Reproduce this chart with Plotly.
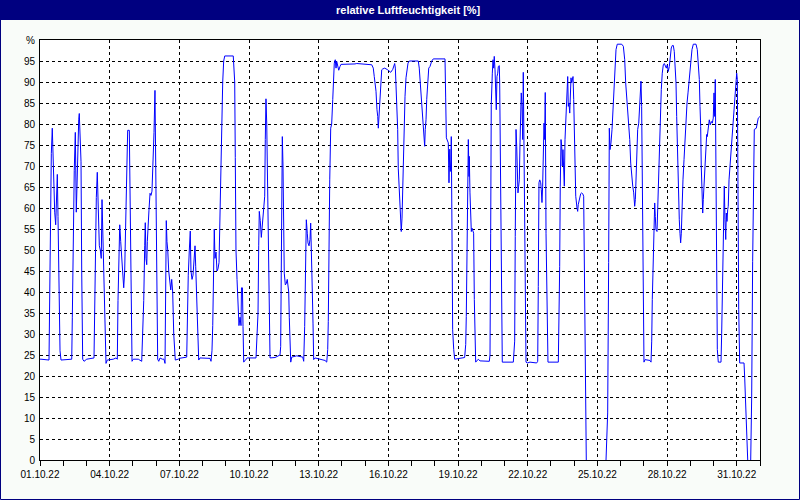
import datetime as dt
import plotly.graph_objects as go

title_text = "relative Luftfeuchtigkeit [%]"
start = dt.datetime(2022, 10, 1)
end = dt.datetime(2022, 11, 1)

# (hours since 01.10.22 00:00, relative humidity %); None = no reading
points = [
    (0, 24), (1.0, 24), (9.3, 23.8), (10.0, 40), (11.1, 61), (11.7, 73), (12.7, 79), (13.4, 73), (14.5, 64.5),
    (15.2, 59), (16.2, 56), (16.8, 63.5), (17.9, 68), (18.6, 58), (19.6, 38), (20.7, 26), (21.7, 23.8),
    (32.8, 24), (33.4, 34), (34.4, 53), (35.4, 69), (36.5, 78), (37.5, 59), (38.2, 65), (39.0, 75), (40.0, 81),
    (40.6, 82.5), (41.3, 77), (42.4, 71), (43.1, 45), (44.1, 24), (45.5, 23.5), (48.3, 24), (55.8, 24.3),
    (56.5, 39), (57.1, 55), (58.2, 62.5), (59.2, 68.5), (60.2, 60), (61.3, 51), (62.3, 50), (63.3, 48),
    (64.1, 62), (65.1, 53), (66.1, 47), (67.2, 35), (68.2, 23), (69.5, 23.8), (75.7, 24), (78.5, 24.3),
    (79.9, 24), (80.6, 38), (81.6, 53), (82.4, 56), (83.4, 52), (84.4, 48), (85.5, 44), (86.5, 41), (87.5, 45),
    (88.6, 58), (89.6, 65.5), (90.6, 78.5), (92.3, 78.5), (93.3, 58), (94.3, 33), (95.1, 23.5), (96.4, 24),
    (101.6, 24), (105.1, 23.5), (106.1, 30), (107.2, 38), (108.2, 51), (108.8, 56.5), (109.5, 48), (110.3, 46.5),
    (110.9, 52), (111.6, 56.5), (112.6, 59.5), (113.7, 63.5), (114.7, 63), (115.7, 64), (116.8, 70.5),
    (117.8, 78), (118.8, 88), (119.6, 67), (120.6, 35), (121.6, 24), (122.7, 23.5), (124, 24.3), (126.4, 24),
    (128.1, 24), (129.2, 23), (129.9, 40), (130.5, 57), (131.2, 52), (132, 50), (133, 45), (134, 42),
    (135.1, 40.5), (136.1, 43), (137.1, 40), (138.2, 30), (139.2, 25.5), (139.8, 23.8), (142.9, 24),
    (143.9, 24.2), (151.6, 24.5), (152.2, 33), (153.2, 44), (154.3, 50), (155.3, 54.5), (156, 45), (157.1, 43),
    (158.1, 44), (159.1, 48), (160.2, 51), (160.9, 46), (161.9, 38), (163, 30), (164, 23.8), (165.3, 24.3),
    (175.7, 24.2), (176.7, 23.5), (177.7, 26), (178.5, 32), (179.1, 44), (180.1, 55), (180.8, 48),
    (181.9, 49.5), (182.9, 45), (183.9, 45.5), (185, 47), (185.7, 55), (186.7, 70), (187.8, 82), (188.8, 90),
    (189.8, 95), (190.9, 96.2), (199.7, 96.2), (200.5, 93.5), (201.2, 90), (201.8, 72), (202.5, 50),
    (203.6, 43), (204.6, 35), (205.6, 32), (206.7, 34), (207.7, 32), (208.2, 41), (209.2, 41), (209.8, 31.8),
    (210.5, 23.3), (212.9, 24), (214.2, 24.3), (223.2, 24.3), (223.9, 28.6), (225.3, 35), (226, 51),
    (226.6, 59.2), (227.6, 57), (228.7, 53), (229.4, 55), (230.1, 57), (231.2, 60), (232.2, 62.8),
    (232.8, 76.3), (233.5, 86), (234.3, 80), (234.9, 68.3), (235.9, 56.4), (236.9, 43), (237.7, 24.3),
    (242.8, 24.4), (246.2, 24.7), (248, 25), (248.7, 27), (249.3, 51), (250.1, 62), (250.4, 77), (251.1, 70),
    (251.8, 56.4), (252.4, 44.5), (253.5, 41.7), (254.5, 42), (255.5, 43), (257, 40), (257.6, 34), (258.3, 28),
    (259.1, 23.3), (260.1, 24.5), (265.3, 24.8), (271.5, 24.5), (272.5, 23.5), (273.5, 31.8), (274.6, 45.3),
    (275.2, 57.2), (276.2, 54), (276.9, 51.7), (278, 51), (279, 52.5), (279.7, 56.4), (280.8, 48.5),
    (281.4, 40), (282.1, 32.6), (282.8, 23.9), (284.2, 24.3), (288.6, 24.1), (294.5, 23.7), (296.3, 23.3),
    (297.3, 26.3), (297.9, 33), (298.6, 57), (299.4, 66.7), (300.4, 79), (301.4, 80), (302.5, 85.8),
    (303.1, 91.3), (304.1, 94.5), (305.1, 95.3), (305.9, 93.3), (306.6, 94.9), (307.6, 93.7), (308.7, 92.8),
    (310, 93.7), (311, 94.2), (325.5, 94.3), (327.3, 94.4), (342.8, 94.1), (344.4, 93.3), (345.4, 91.3),
    (346.5, 89.8), (347.2, 87.8), (348.2, 83.4), (349, 81.8), (349.6, 79), (350.3, 81.8), (351, 87.4),
    (352.1, 91.3), (353.1, 92.9), (354.1, 93.1), (356.2, 93.3), (359.3, 92.9), (361.4, 92.6), (362.4, 92.3),
    (364.5, 93), (365.5, 93.7), (366.5, 94.4), (367.2, 93.3), (367.9, 89), (368.6, 84.2), (369.6, 78.7),
    (370.2, 69.5), (371, 65.2), (371.7, 60.4), (372.7, 56), (373.3, 54.4), (374.1, 57.6), (374.8, 65.2),
    (375.4, 69.9), (376.1, 79.4), (377.2, 86.6), (378.2, 91), (379.2, 93.3), (380.3, 94.5), (381.6, 95),
    (390.9, 95), (391.9, 93.3), (392.7, 90.6), (393.7, 87.8), (394.4, 84.2), (395, 81), (396.1, 78.7),
    (396.8, 76.3), (397.5, 74.7), (398.1, 78.7), (398.9, 81), (399.6, 85.8), (400.6, 90.6), (401.7, 93.3),
    (403, 93.7), (404.8, 95), (406.4, 95.5), (418.5, 95.5), (419.2, 86.2), (419.9, 76.7), (421.9, 75.5),
    (422.6, 66), (423.4, 74), (424, 68.7), (424.7, 71.5), (425, 77), (425.7, 54.8), (426.4, 31), (427.5, 26.3),
    (428.5, 24), (438.8, 24.4), (439.9, 27.5), (440.5, 34.2), (441.2, 52.5), (442, 66.7), (442.6, 76.3),
    (443.3, 67.5), (443.6, 72.3), (444.3, 63.6), (445, 56.8), (445.7, 54.4), (446.4, 55.2), (448.1, 54),
    (448.8, 38.2), (449.5, 27), (450.2, 23.3), (452.9, 24), (454.7, 23.6), (464.3, 23.5), (465, 25),
    (465.7, 54), (466.3, 84.6), (467.4, 92.1), (468.1, 95.3), (468.8, 93.3), (469.4, 96.1), (470.2, 92.9),
    (470.9, 88.2), (471.5, 83.4), (472.2, 91.3), (473, 92.1), (473.6, 93.7), (474.6, 93.9), (475, 90),
    (475.6, 76.3), (476.4, 60.4), (477.1, 41), (477.7, 23.3), (489.1, 23.3), (489.8, 25), (490.5, 28.3),
    (491.1, 53.2), (491.9, 78.7), (492.6, 74.7), (493.2, 68.3), (493.9, 63.6), (494.6, 65.2), (495.3, 66.7),
    (496, 75.5), (496.7, 80), (497.3, 87.4), (498.1, 84.2), (498.8, 76.3), (499.4, 92.3), (500.1, 69.5),
    (500.8, 50.9), (501.5, 36.6), (502.2, 23.3), (503.6, 23.1), (506.3, 23.3), (513.2, 23.1), (514.3, 23.5),
    (514.9, 41.3), (515.6, 66), (516.4, 66.7), (517.4, 66), (518, 64.4), (518.7, 61.3), (519.4, 65.2),
    (520.1, 71.5), (520.8, 80.2), (521.5, 76.3), (522.1, 87.5), (522.9, 54), (523.6, 37.4), (524.2, 32.6),
    (524.9, 23.3), (535.6, 23.3), (536.3, 31), (537, 46.1), (537.6, 65.2), (538.4, 76.3), (539.1, 74.7),
    (539.7, 70), (540.4, 73.9), (541.2, 68), (541.8, 65.2), (542.5, 76.3), (543.2, 81), (543.8, 86.2),
    (544.6, 91), (545.3, 91.3), (545.9, 84.2), (546.6, 85), (547.4, 82.6), (548, 89.8), (548.7, 91),
    (549.4, 89.8), (550.8, 91.3), (551.5, 85.8), (552.1, 79), (552.8, 70.3), (553.6, 62.8), (554.9, 60),
    (555.6, 59.2), (556.2, 60.8), (557.7, 62.8), (558.7, 63.4), (559.8, 63.6), (560.8, 63.4), (561.8, 62.8),
    (562.4, 47.3), (563.2, 32.6), (563.9, 19.1), (564.5, 0), (574.7, None), (584.9, 0), (585.6, 3.6), (586.6, 11.2),
    (587.6, 47), (588.3, 79), (589, 73.9), (590, 75.5), (591.1, 78.7), (592.1, 83.4), (593.1, 89.8),
    (594.2, 95), (595.2, 97.7), (596.5, 99), (601.1, 99), (602.8, 98.5), (604.2, 95.3), (605.2, 89.8),
    (606.3, 86.2), (607.3, 83), (608.3, 81), (609.4, 76.3), (610.4, 70.7), (611.4, 66.7), (612.5, 65.2),
    (613.5, 63.6), (614.5, 60.4), (615.2, 62), (615.9, 66.7), (616.6, 73.9), (617.6, 78.7), (618.7, 80.2),
    (619.7, 84.2), (620.3, 85.8), (621, 90.2), (621.7, 84.2), (622.4, 64.4), (623.1, 36.6), (624.1, 23.3),
    (625.2, 23.9), (630.3, 23.7), (631.4, 23.3), (632.1, 28.3), (632.7, 38.2), (633.8, 52.5), (634.5, 57.2),
    (635.2, 61.2), (635.8, 58), (636.5, 54.8), (637.6, 54.4), (638.3, 60.4), (638.9, 62), (639.6, 71.5),
    (640.4, 77), (641, 83.4), (642, 88.2), (643, 92.1), (644.1, 94.1), (645.1, 94.4), (646.1, 93.7),
    (647.2, 93.3), (648.2, 94.1), (649.2, 92.5), (650.3, 93.7), (651.3, 96.5), (652.3, 98.1), (653.4, 98.7),
    (654.4, 98.7), (655.4, 97.3), (656.5, 94.1), (657.2, 89.8), (657.9, 81.8), (658.5, 74.7), (659.3, 68.3),
    (660, 62.8), (660.6, 57.2), (661.3, 54), (662, 51.7), (662.7, 54), (663.4, 61.2), (664.4, 66.7),
    (665.5, 71.5), (666.5, 76.3), (667.5, 81), (668.6, 85), (669.6, 87.4), (670.6, 89.8), (671.7, 93.7),
    (672.7, 95.7), (673.7, 97.7), (675.1, 99), (677.9, 99), (679.2, 97.7), (680.2, 95), (681.3, 90.6),
    (682, 84.2), (682.7, 79.4), (683.3, 70), (684.1, 63.6), (684.8, 58.8), (685.4, 62), (686.1, 65.2),
    (686.8, 68.3), (687.5, 71.5), (688.2, 76.3), (688.9, 77.5), (689.5, 77), (690.6, 78.7), (691.6, 81),
    (692.6, 79.8), (693.7, 80.6), (694.7, 80.2), (695.7, 81.4), (696.5, 87.4), (697.2, 81.8), (697.8, 90.6),
    (698.5, 64), (699.3, 34.2), (699.9, 26.3), (700.9, 23.3), (703.7, 23.3), (704.4, 30.2), (705, 38.2),
    (705.8, 49.3), (706.5, 59.2), (707.1, 65.2), (707.8, 57.2), (708.6, 52.5), (709.2, 58.8), (709.9, 56.8),
    (710.6, 59.6), (711.2, 60.4), (712, 66.7), (713, 70), (714, 73.9), (715.1, 77.9), (716.1, 81),
    (717.1, 84.2), (718.2, 88.2), (719.2, 91.3), (719.9, 92.1), (720.6, 90.6), (721.3, 60.4), (722, 35.8),
    (723, 23.1), (727.5, 23.1), (728.2, 19.5), (729.2, 12), (730.3, 3.6), (731.3, 0), (732.9, None), (734.4, 0),
    (735.4, 15), (736.4, 47.3), (737.5, 70.7), (738.1, 78.7), (740.2, 79), (741.2, 80.2), (742.2, 81.4),
    (744, 81.8),
]
hours = [p[0] for p in points]
rh = [p[1] for p in points]
times = [start + dt.timedelta(hours=h) for h in hours]

y_ticks = list(range(0, 101, 5))
y_labels = [str(v) for v in range(0, 100, 5)] + ["%"]

FONT = "Liberation Sans, Arial, sans-serif"
NAVY = "#000080"

fig = go.Figure()
fig.add_trace(go.Scatter(x=times, y=rh, mode="lines", connectgaps=False,
                         line=dict(color="#0000ff", width=1), hoverinfo="skip"))

W, H = 800, 500
L, R, T, B = 40, 40, 40, 40
pw, ph = W - L - R, H - T - B

def px_x(x):
    return (x - L) / pw

def px_y(y):
    return (H - B - y) / ph

fig.update_layout(
    width=W, height=H,
    margin=dict(l=L, r=R, t=T, b=B, autoexpand=False),
    paper_bgcolor="#f9fcf9",
    plot_bgcolor="#ffffff",
    showlegend=False,
    hovermode=False,
    font=dict(family=FONT, size=10, color="#000000"),
    xaxis=dict(
        type="date", range=[start, end],
        tickmode="linear", tick0=start, dtick=3 * 86400000,
        tickformat="%d.%m.%y",
        showgrid=True, gridcolor="#000000", gridwidth=1, griddash="3px,3px",
        showline=True, linecolor="#000000", linewidth=1, mirror=True,
        ticks="outside", ticklen=5, tickcolor="#000000", tickwidth=1,
        minor=dict(dtick=86400000, tick0=start, ticks="outside", ticklen=5,
                   tickcolor="#000000", tickwidth=1, showgrid=False),
        zeroline=False, fixedrange=True,
    ),
    yaxis=dict(
        range=[0, 100], tickmode="array", tickvals=y_ticks, ticktext=y_labels,
        showgrid=True, gridcolor="#000000", gridwidth=1, griddash="3px,3px",
        showline=True, linecolor="#000000", linewidth=1, mirror=True,
        ticks="", ticklabelstandoff=2,
        zeroline=False, fixedrange=True,
    ),
    shapes=[
        dict(type="rect", xref="paper", yref="paper",
             x0=px_x(0), x1=px_x(W), y0=px_y(20), y1=px_y(0),
             fillcolor=NAVY, line=dict(width=0), layer="above"),
        dict(type="rect", xref="paper", yref="paper",
             x0=px_x(0.5), x1=px_x(W - 0.5), y0=px_y(H - 0.5), y1=px_y(0.5),
             fillcolor="rgba(0,0,0,0)", line=dict(color=NAVY, width=1), layer="above"),
    ],
    annotations=[
        dict(text=title_text, xref="paper", yref="paper", x=px_x(409), y=px_y(10),
             xanchor="center", yanchor="middle", showarrow=False,
             font=dict(family=FONT, size=11, color="#ffffff", weight="bold")),
    ],
)

fig.write_html("out.html", config={"displayModeBar": False, "staticPlot": True},
               post_script="document.body.style.margin='0';document.body.style.overflow='hidden';")
